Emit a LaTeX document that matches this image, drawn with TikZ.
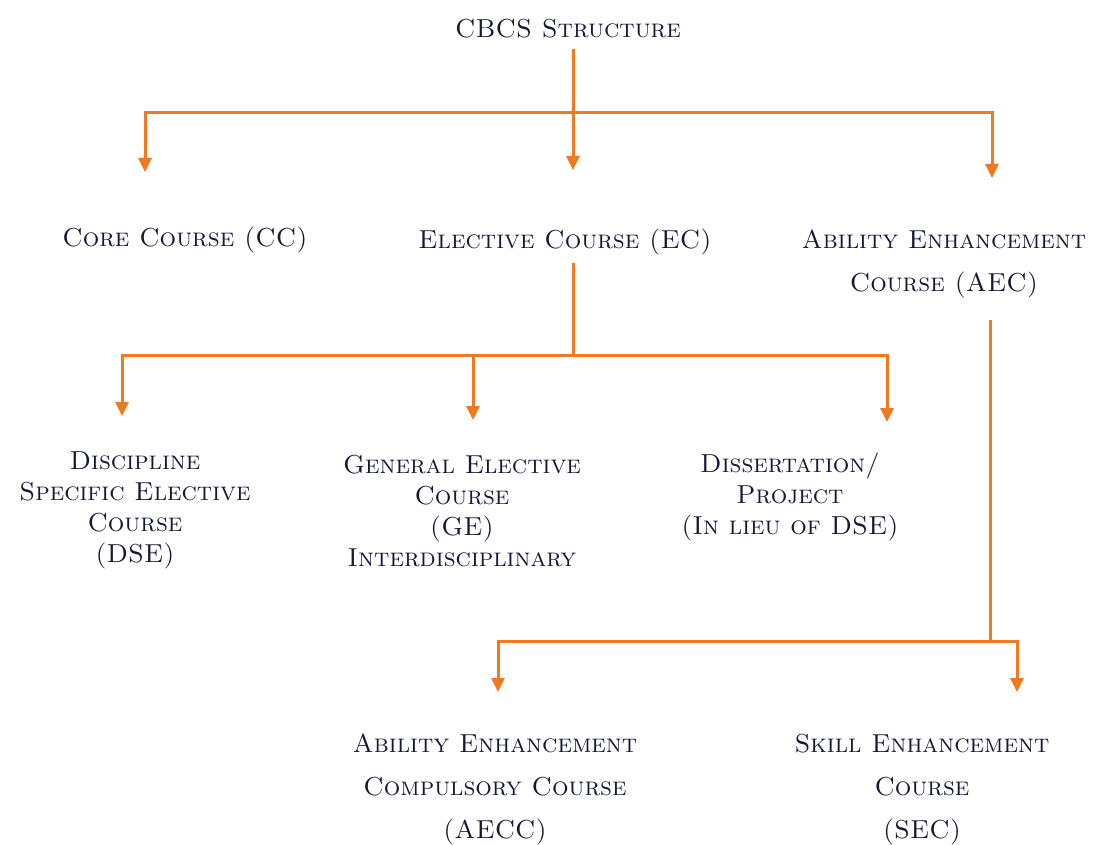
\documentclass[tikz,border=0pt]{standalone}
\usetikzlibrary{arrows.meta}
\definecolor{ink}{HTML}{141A36}
\definecolor{wirec}{HTML}{EF7A22}
\begin{document}
\begin{tikzpicture}[x=1pt,y=-1pt,
  lbl/.style={text=ink,align=center,inner sep=0pt,font=\fontsize{26}{31}\selectfont\scshape},
  lblw/.style={lbl,font=\fontsize{26}{43}\selectfont\scshape},
  wire/.style={draw=wirec,line width=3pt},
  arr/.style={wire,-{Triangle[width=13pt,length=14pt]}}]
\useasboundingbox (0,0) rectangle (1101,845);
% nodes
\node[lbl] (cbcs) at (568,29) {CBCS Structure};
\node[lbl] (cc) at (185,240) {Core Course (CC)};
\node[lbl] (ec) at (565,242) {Elective Course (EC)};
\node[lblw] (aec) at (944,264) {Ability Enhancement\\Course (AEC)};
\node[lbl] (dse) at (135,510) {Discipline\\Specific Elective\\Course\\(DSE)};
\node[lbl] (ge) at (462,511) {General Elective\\Course\\(GE)\\Interdisciplinary};
\node[lbl] (dis) at (790,497) {Dissertation/\\Project\\(In lieu of DSE)};
\node[lblw] (aecc) at (495,789) {Ability Enhancement\\Compulsory Course\\(AECC)};
\node[lblw] (sec) at (922,790) {Skill Enhancement\\Course\\(SEC)};
% junctions and arrow tips
\coordinate (j1) at (573,113);
\coordinate (tcc) at (145,172);
\coordinate (tec) at (573,170);
\coordinate (tae) at (992,178);
\coordinate (j2) at (573,355);
\coordinate (tdse) at (122,416);
\coordinate (tge) at (473,420);
\coordinate (tdis) at (887,422);
\coordinate (j3) at (990,641);
\coordinate (taecc) at (498,692);
\coordinate (tsec) at (1017,692);
% connectors
\draw[arr] (cbcs.south -| j1) ++(0,10) -- (tec);
\draw[arr] (j1) -| (tcc);
\draw[arr] (j1) -| (tae);
\draw[wire] (ec.south -| j2) ++(0,8) -- (j2);
\draw[arr] (j2) -| (tdse);
\draw[arr] (j2) -- (tge |- j2) -- (tge);
\draw[arr] (j2) -| (tdis);
\draw[wire] (aec.south -| j3) ++(0,22) -- (j3);
\draw[arr] (j3) -| (taecc);
\draw[arr] (j3) -| (tsec);
\end{tikzpicture}
\end{document}
